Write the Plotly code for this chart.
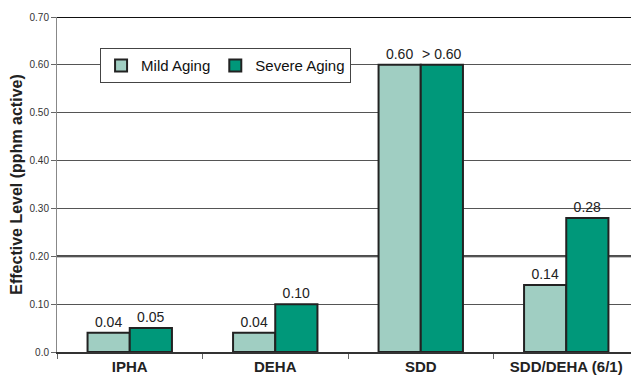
import plotly.graph_objects as go

categories = ["IPHA", "DEHA", "SDD", "SDD/DEHA (6/1)"]
mild = [0.04, 0.04, 0.60, 0.14]
severe = [0.05, 0.10, 0.60, 0.28]
mild_labels = ["0.04", "0.04", "0.60", "0.14"]
severe_labels = ["0.05", "0.10", "> 0.60", "0.28"]
y_ticks = [0.0, 0.1, 0.2, 0.3, 0.4, 0.5, 0.6, 0.7]
y_tick_labels = ["0.0", "0.10", "0.20", "0.30", "0.40", "0.50", "0.60", "0.70"]

fig = go.Figure()
fig.add_trace(go.Bar(x=categories, y=mild, name="Mild Aging", text=mild_labels,
                     textposition="outside", cliponaxis=False,
                     textfont=dict(size=14, color="#222", family="Liberation Sans, Arial"),
                     marker=dict(color="#a0cec2", line=dict(color="#222", width=2))))
fig.add_trace(go.Bar(x=categories, y=severe, name="Severe Aging", text=severe_labels,
                     textposition="outside", cliponaxis=False,
                     textfont=dict(size=14, color="#222", family="Liberation Sans, Arial"),
                     marker=dict(color="#00987a", line=dict(color="#222", width=2))))

for yv in [0.2, 0.7]:
    fig.add_shape(type="line", xref="paper", yref="y", x0=0, x1=1, y0=yv, y1=yv,
                  line=dict(color="#111", width=2), layer="below")

fig.update_layout(
    width=639, height=379,
    margin=dict(l=49, r=8, t=9, b=35, autoexpand=False),
    paper_bgcolor="white", plot_bgcolor="white",
    barmode="group", bargap=0.42, bargroupgap=0,
    font=dict(family="Liberation Sans, Arial", color="#222"),
    showlegend=True,
    legend=dict(orientation="h", x=0.074, y=0.907, xanchor="left", yanchor="top",
                bgcolor="white", bordercolor="#444", borderwidth=1,
                font=dict(size=15, color="#111"), itemwidth=30,
                traceorder="normal", tracegroupgap=0),
    xaxis=dict(showline=True, linecolor="#333", linewidth=1.5, automargin=False,
               ticks="outside", tickson="boundaries", ticklen=5, tickcolor="#666",
               tickfont=dict(size=15, color="#222", family="Liberation Sans, Arial"),
               tickprefix="<b>", ticksuffix="</b>"),
    yaxis=dict(range=[0, 0.7], tickvals=y_ticks, ticktext=y_tick_labels,
               showgrid=True, gridcolor="#555", gridwidth=1, automargin=False,
               showline=True, linecolor="#888", linewidth=1,
               ticks="outside", ticklen=5, tickcolor="#666",
               tickfont=dict(size=10, color="#333"),
               title=dict(text="<b>Effective Level (pphm active)</b>",
                          font=dict(size=16, color="#222"), standoff=6),
               zeroline=False),
)

fig.write_html("out.html")
